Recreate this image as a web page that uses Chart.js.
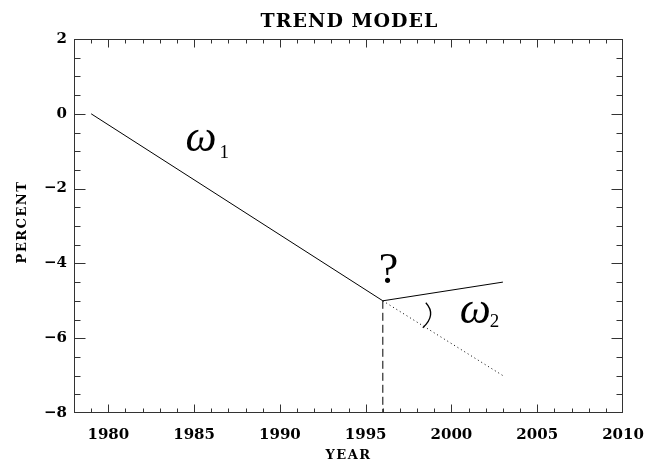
<!DOCTYPE html>
<html>
<head>
<meta charset="utf-8">
<script src="https://cdn.jsdelivr.net/npm/chart.js@4/dist/chart.umd.min.js"></script>
<style>
html,body{margin:0;padding:0;background:#fff;}
#wrap{width:647px;height:463px;position:relative;}
</style>
</head>
<body>
<div id="wrap"><canvas id="c"></canvas></div>
<script>
// ---- data ----
const trendYears = [1979, 1996, 2003];
const trendValues = [0, -5, -4.5];
const extrapYears = [1996, 2003];
const extrapValues = [-5, -7];
const breakYears = [1996, 1996];
const breakValues = [-5, -8];
const xTickLabels = [1980, 1985, 1990, 1995, 2000, 2005, 2010];
const yTickLabels = [-8, -6, -4, -2, 0, 2];
const titleText = 'TREND MODEL';
const xTitle = 'YEAR';
const yTitle = 'PERCENT';

const toXY = (xs, ys) => xs.map((v, i) => ({x: v, y: ys[i]}));

const SERIF = '"DejaVu Serif", serif';

const decor = {
  id: 'decor',
  afterDraw(chart) {
    const {ctx, chartArea: a, scales: {x, y}} = chart;
    ctx.save();
    const line = (x1, y1, x2, y2) => { ctx.beginPath(); ctx.moveTo(x1, y1); ctx.lineTo(x2, y2); ctx.stroke(); };
    ctx.strokeStyle = '#333';
    ctx.lineWidth = 1;
    const L = Math.round(a.left) + 0.5, R = Math.round(a.right) - 0.5;
    const T = Math.round(a.top) + 0.5, B = Math.round(a.bottom) - 0.5;
    ctx.strokeRect(L, T, R - L, B - T);
    // x ticks (minor every year, major every 5)
    for (let v = x.min + 1; v < x.max; v += 1) {
      const px = Math.min(R, Math.max(L, Math.round(x.getPixelForValue(v)) + 0.5));
      const len = (v % 5 === 0) ? 8 : 4;
      line(px, B, px, B - len);
      line(px, T, px, T + len);
    }
    // y ticks (minor every 0.5, major every 2)
    for (let v = y.min + 0.5; v < y.max - 1e-9; v += 0.5) {
      const py = Math.min(B, Math.max(T, Math.round(y.getPixelForValue(v)) + 0.5));
      const len = (Math.abs(v % 2) < 1e-9) ? 11 : 6;
      line(L, py, L + len, py);
      line(R, py, R - len, py);
    }
    // titles
    ctx.fillStyle = '#000';
    ctx.textAlign = 'center';
    ctx.textBaseline = 'alphabetic';
    ctx.font = 'bold 19px ' + SERIF;
    ctx.letterSpacing = '1px';
    ctx.fillText(titleText, (a.left + a.right) / 2 + 1, 27);
    ctx.font = 'bold 13px ' + SERIF;
    ctx.letterSpacing = '1.5px';
    ctx.fillText(xTitle, (a.left + a.right) / 2, 459);
    ctx.save();
    ctx.translate(26, (a.top + a.bottom) / 2 - 4);
    ctx.rotate(-Math.PI / 2);
    ctx.fillText(yTitle, 0, 0);
    ctx.restore();
    ctx.letterSpacing = '0px';

    // annotations
    const bx = x.getPixelForValue(breakYears[0]);
    const by = y.getPixelForValue(breakValues[0]);
    ctx.textAlign = 'left';
    ctx.font = 'italic 44px "Liberation Serif", serif';
    const w1x = x.getPixelForValue(1984.5), w1y = y.getPixelForValue(-1.0);
    ctx.fillText('ω', w1x, w1y);
    ctx.fillText('ω', bx + 77, by + 22);
    ctx.font = '19px "Liberation Serif", serif';
    ctx.fillText('1', w1x + 34, w1y + 7);
    ctx.fillText('2', bx + 107, by + 26);
    ctx.font = '44px "Liberation Serif", serif';
    ctx.fillText('?', bx - 4, by - 18);
    // angle arc
    ctx.strokeStyle = '#000';
    ctx.lineWidth = 1.3;
    ctx.beginPath();
    ctx.moveTo(bx + 43, by + 2);
    ctx.quadraticCurveTo(bx + 54, by + 14, bx + 40, by + 27);
    ctx.stroke();
    ctx.restore();
  }
};

new Chart(document.getElementById('c'), {
  type: 'scatter',
  data: {
    datasets: [
      {data: toXY(trendYears, trendValues), showLine: true, borderColor: '#000', borderWidth: 1, pointRadius: 0, tension: 0},
      {data: toXY(extrapYears, extrapValues), showLine: true, borderColor: '#000', borderWidth: 1, borderDash: [1, 3], pointRadius: 0},
      {data: toXY(breakYears, breakValues), showLine: true, borderColor: '#000', borderWidth: 1, borderDash: [8, 4], pointRadius: 0}
    ]
  },
  options: {
    responsive: true,
    maintainAspectRatio: false,
    animation: false,
    layout: {padding: {top: 39, right: 24, left: 0, bottom: 0}},
    plugins: {legend: {display: false}, tooltip: {enabled: false}},
    scales: {
      x: {
        type: 'linear', min: 1978, max: 2010,
        grid: {display: false, drawTicks: false}, border: {display: false},
        afterBuildTicks: s => { s.ticks = xTickLabels.map(v => ({value: v})); },
        afterFit: s => { s.height = 50; s.paddingLeft = 0; s.paddingRight = 0; },
        ticks: {color: '#000', padding: 13, maxRotation: 0, autoSkip: false, font: {family: SERIF, size: 15, weight: 'bold'}, callback: v => String(v)}
      },
      y: {
        type: 'linear', min: -8, max: 2,
        grid: {display: false, drawTicks: false}, border: {display: false},
        afterBuildTicks: s => { s.ticks = yTickLabels.map(v => ({value: v})); },
        afterFit: s => { s.width = 74; s.paddingTop = 0; s.paddingBottom = 0; },
        ticks: {color: '#000', padding: 7, autoSkip: false, font: {family: SERIF, size: 15, weight: 'bold'}, callback: v => v < 0 ? '\u2212' + Math.abs(v) : String(v)}
      }
    }
  },
  plugins: [decor]
});
</script>
</body>
</html>
